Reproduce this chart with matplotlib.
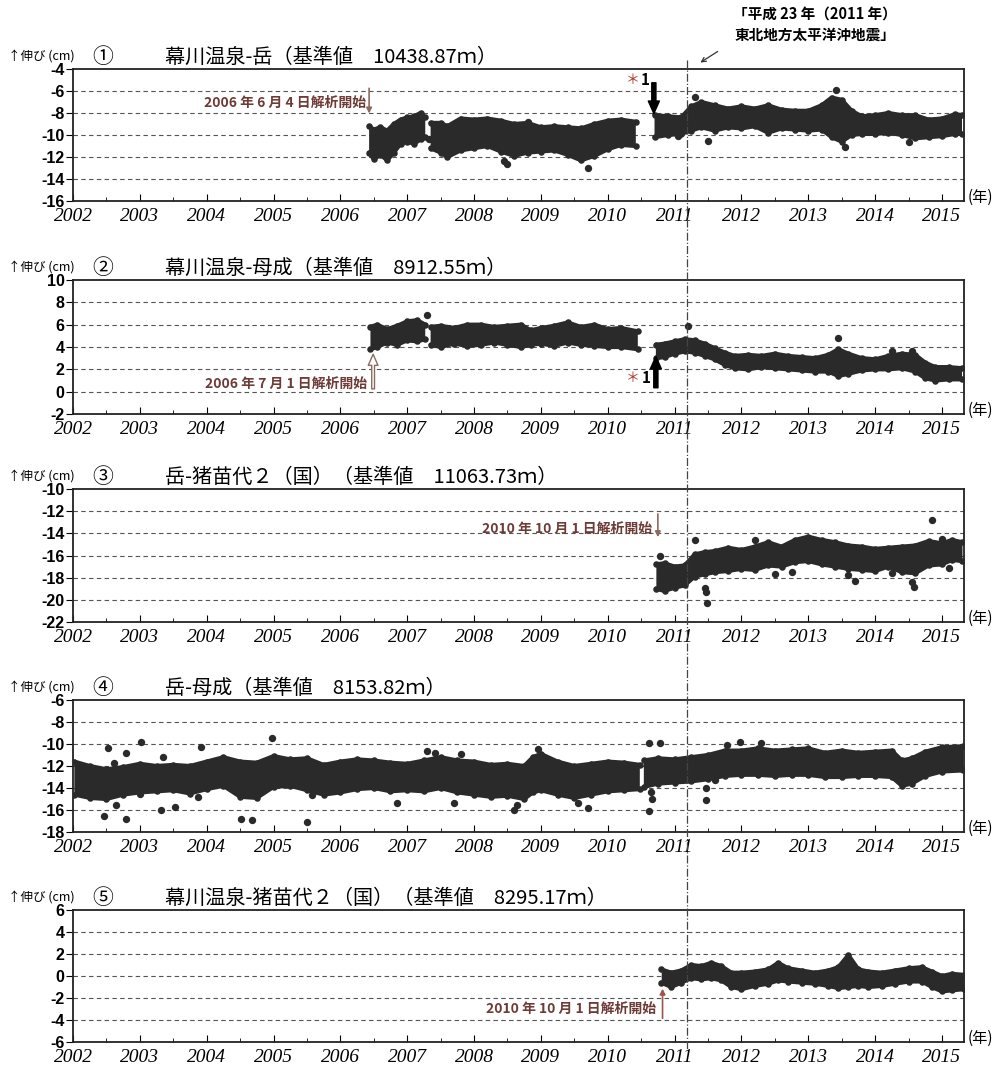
import numpy as np
import matplotlib
matplotlib.use('Agg')
import matplotlib.pyplot as plt
from matplotlib.transforms import blended_transform_factory, ScaledTranslation
from matplotlib.lines import Line2D

JP = ['Noto Sans CJK JP', 'DejaVu Sans']
plt.rcParams['font.family'] = JP
plt.rcParams['axes.unicode_minus'] = False

# ---- data (cm) : band lower/upper envelope + stray points ----
# panel 1 : 幕川温泉-岳
p1_t  = [2006.43, 2006.5, 2006.6, 2006.7, 2006.8, 2006.9, 2007.0, 2007.1, 2007.2, 2007.27, np.nan,
         2007.35, 2007.5, 2007.6, 2007.8, 2008.0, 2008.2, 2008.4, 2008.6, 2008.8, 2009.0, 2009.2,
         2009.4, 2009.6, 2009.8, 2010.0, 2010.2, 2010.42, np.nan,
         2010.7, 2010.9, 2011.1, 2011.25, 2011.4, 2011.6, 2011.8, 2012.0, 2012.2, 2012.4, 2012.6,
         2012.8, 2013.0, 2013.2, 2013.35, 2013.5, 2013.65, 2013.8, 2014.0, 2014.2, 2014.4, 2014.6,
         2014.8, 2015.0, 2015.2, 2015.3]
p1_hi = [-9.2, -9.5, -9.3, -9.6, -9.0, -8.6, -8.4, -8.3, -8.0, -8.4, np.nan,
         -8.9, -8.9, -9.2, -8.5, -8.6, -8.5, -8.7, -9.0, -8.9, -9.3, -9.2,
         -9.3, -9.4, -9.0, -8.7, -8.6, -8.8, np.nan,
         -8.2, -8.3, -8.4, -7.4, -7.0, -7.3, -7.6, -7.4, -7.6, -7.3, -7.7,
         -7.8, -7.8, -7.3, -6.6, -6.8, -7.8, -8.3, -8.2, -8.0, -8.2, -8.2,
         -8.6, -8.5, -8.1, -8.2]
p1_lo = [-11.6, -12.2, -11.8, -12.3, -11.6, -10.8, -10.6, -10.8, -10.4, -10.2, np.nan,
         -11.2, -11.6, -12.0, -11.4, -11.2, -11.0, -11.5, -11.9, -11.6, -11.5, -11.4,
         -11.8, -12.3, -11.9, -11.3, -10.9, -11.0, np.nan,
         -10.2, -10.0, -9.9, -9.6, -9.3, -9.6, -9.3, -9.4, -9.2, -9.8, -9.4,
         -9.5, -9.6, -9.5, -10.2, -10.6, -10.0, -9.9, -9.9, -9.8, -10.0, -10.3,
         -10.2, -10.1, -9.9, -9.9]
p1_out_t = [2007.33, 2008.5, 2008.45, 2008.8, 2009.7, 2011.05, 2011.3, 2011.5, 2013.42, 2013.55, 2014.5]
p1_out_v = [-10.4, -12.6, -12.4, -8.8, -13.0, -10.1, -6.5, -10.5, -5.9, -11.1, -10.6]

# panel 2 : 幕川温泉-母成
p2_t  = [2006.45, 2006.55, 2006.7, 2006.85, 2007.0, 2007.15, 2007.27, np.nan,
         2007.35, 2007.5, 2007.7, 2007.9, 2008.1, 2008.3, 2008.5, 2008.7, 2008.85, 2009.0, 2009.2,
         2009.4, 2009.6, 2009.8, 2010.0, 2010.2, 2010.45, np.nan,
         2010.72, 2010.85, 2011.0, 2011.15, 2011.3, 2011.45, 2011.6, 2011.75, 2011.9, 2012.1, 2012.3,
         2012.5, 2012.7, 2012.9, 2013.1, 2013.3, 2013.45, 2013.6, 2013.8, 2014.0, 2014.2, 2014.4,
         2014.6, 2014.75, 2014.9, 2015.1, 2015.3]
p2_hi = [5.8, 6.0, 5.6, 5.9, 6.3, 6.4, 6.0, np.nan,
         5.8, 5.9, 5.7, 6.0, 6.0, 5.8, 5.9, 6.0, 5.5, 5.7, 5.9,
         6.2, 5.8, 6.0, 5.6, 5.7, 5.4, np.nan,
         4.2, 4.3, 4.5, 4.7, 4.6, 4.3, 3.9, 3.5, 3.2, 3.3, 3.2,
         3.4, 3.2, 3.1, 3.0, 3.3, 3.8, 3.4, 3.0, 2.9, 3.2, 3.4,
         3.3, 2.6, 2.2, 2.2, 2.1]
p2_lo = [3.8, 4.0, 4.4, 4.2, 4.6, 4.5, 4.7, np.nan,
         4.2, 4.0, 4.3, 4.1, 4.2, 4.4, 4.2, 4.0, 4.2, 4.3, 4.1,
         4.4, 4.2, 4.1, 4.0, 4.0, 3.8, np.nan,
         3.0, 3.1, 3.4, 3.6, 3.5, 3.2, 2.9, 2.4, 2.1, 2.0, 2.2,
         2.1, 2.0, 1.9, 1.8, 1.8, 1.4, 1.6, 1.9, 2.0, 2.0, 2.1,
         1.8, 1.2, 1.0, 1.1, 1.1]
p2_out_t = [2007.3, 2011.2, 2013.45, 2014.25, 2014.55]
p2_out_v = [6.9, 5.9, 4.8, 3.6, 3.6]

# panel 3 : 岳-猪苗代2(国)
p3_t  = [2010.72, 2010.85, 2011.0, 2011.15, 2011.3, 2011.45, 2011.6, 2011.8, 2012.0, 2012.2, 2012.4,
         2012.6, 2012.8, 2013.0, 2013.2, 2013.4, 2013.6, 2013.8, 2014.0, 2014.2, 2014.4, 2014.6,
         2014.8, 2015.0, 2015.15, 2015.3]
p3_hi = [-16.8, -16.7, -17.0, -16.9, -15.9, -15.7, -15.6, -15.3, -15.5, -15.2, -14.8,
         -15.2, -14.6, -14.3, -14.6, -14.8, -15.1, -15.2, -15.4, -15.3, -15.2, -15.1,
         -14.7, -14.9, -14.6, -14.8]
p3_lo = [-19.0, -19.2, -18.9, -18.7, -17.9, -17.7, -17.5, -17.4, -17.2, -17.3, -16.9,
         -17.0, -16.6, -16.5, -16.8, -17.0, -17.2, -17.3, -17.4, -17.0, -17.5, -17.6,
         -16.9, -16.8, -16.4, -16.5]
p3_out_t = [2010.78, 2011.3, 2011.45, 2011.47, 2011.48, 2012.2, 2012.25, 2012.5, 2012.75, 2013.6,
            2013.7, 2014.55, 2014.58, 2014.85, 2015.0, 2015.1, 2014.25]
p3_out_v = [-16.0, -14.6, -18.9, -19.3, -20.3, -14.6, -16.6, -17.7, -17.5, -17.8,
            -18.3, -18.4, -18.8, -12.8, -14.5, -17.1, -17.6]

# panel 4 : 岳-母成
p4_t  = [2002.02, 2002.25, 2002.5, 2002.75, 2003.0, 2003.25, 2003.5, 2003.75, 2004.0, 2004.25,
         2004.5, 2004.75, 2005.0, 2005.25, 2005.5, 2005.75, 2006.0, 2006.25, 2006.5, 2006.75,
         2007.0, 2007.25, 2007.5, 2007.75, 2008.0, 2008.25, 2008.5, 2008.75, 2008.88, 2009.0,
         2009.25, 2009.5, 2009.75, 2010.0, 2010.25, 2010.48, np.nan,
         2010.54, 2010.75, 2011.0, 2011.25, 2011.5, 2011.75, 2012.0, 2012.25, 2012.5, 2012.75,
         2013.0, 2013.25, 2013.5, 2013.75, 2014.0, 2014.25, 2014.4, 2014.55, 2014.75, 2015.0, 2015.32]
p4_hi = [-11.6, -12.0, -12.3, -12.1, -11.8, -12.0, -11.9, -12.0, -11.6, -11.2,
         -11.6, -11.7, -11.1, -11.4, -11.3, -11.9, -11.6, -11.4, -11.5, -11.7,
         -11.8, -11.5, -11.2, -11.5, -11.6, -11.9, -11.8, -12.0, -11.2, -10.9,
         -11.6, -12.0, -11.8, -11.6, -11.7, -11.9, np.nan,
         -11.5, -11.3, -11.4, -11.2, -11.0, -10.6, -10.6, -10.4, -10.6, -10.5,
         -10.4, -10.8, -10.6, -10.8, -10.7, -10.6, -11.5, -11.3, -10.7, -10.3, -10.2]
p4_lo = [-14.6, -14.9, -15.0, -14.6, -14.4, -14.3, -14.2, -14.5, -14.1, -13.8,
         -14.8, -14.9, -13.9, -13.8, -14.2, -14.6, -14.4, -14.1, -14.0, -14.3,
         -14.2, -14.3, -14.0, -14.4, -14.6, -14.8, -14.7, -15.0, -14.4, -14.2,
         -14.6, -14.9, -14.6, -14.3, -14.2, -14.1, np.nan,
         -13.9, -13.6, -13.5, -13.4, -13.2, -12.9, -12.8, -12.8, -12.9, -12.8,
         -12.8, -13.0, -13.0, -12.9, -12.9, -13.0, -13.8, -13.6, -12.9, -12.5, -12.4]
p4_out_t = [2002.52, 2002.62, 2002.8, 2003.02, 2003.35, 2003.0, 2002.47, 2002.65, 2002.8, 2003.32,
            2003.52, 2003.87, 2003.92, 2004.52, 2004.68, 2004.97, 2005.5, 2005.57, 2007.29, 2007.41,
            2006.84, 2007.7, 2007.8, 2008.65, 2008.6, 2008.95, 2009.7, 2009.55, 2010.62, 2010.78,
            2010.64, 2010.66, 2010.62, 2011.47, 2011.47, 2011.6, 2011.78, 2011.98, 2012.3]
p4_out_v = [-10.4, -11.7, -10.8, -9.8, -11.2, -14.5, -16.5, -15.5, -16.8, -16.0,
            -15.7, -14.8, -10.3, -16.8, -16.9, -9.5, -17.1, -14.6, -10.6, -10.8,
            -15.4, -15.4, -10.9, -15.5, -16.0, -10.5, -15.8, -15.4, -9.9, -9.9,
            -14.4, -15.0, -16.1, -14.0, -15.1, -13.3, -10.1, -9.8, -9.9]

# panel 5 : 幕川温泉-猪苗代2(国)
p5_t  = [2010.8, 2010.95, 2011.1, 2011.25, 2011.4, 2011.55, 2011.7, 2011.85, 2012.0, 2012.2,
         2012.4, 2012.55, 2012.7, 2012.9, 2013.1, 2013.3, 2013.45, 2013.6, 2013.75, 2013.9,
         2014.1, 2014.3, 2014.5, 2014.7, 2014.85, 2015.0, 2015.15, 2015.33]
p5_hi = [0.6, 0.3, 0.5, 1.0, 0.9, 1.2, 0.9, 0.3, 0.3, 0.4,
         0.6, 1.2, 0.7, 0.5, 0.3, 0.5, 0.8, 1.9, 0.6, 0.4,
         0.3, 0.5, 0.7, 0.8, 0.4, 0.0, 0.2, 0.1]
p5_lo = [-0.6, -1.0, -0.6, -0.2, -0.3, -0.2, -0.4, -1.0, -1.2, -0.9,
         -0.7, -0.4, -0.5, -0.6, -0.7, -0.9, -1.1, -1.0, -0.9, -1.0,
         -0.9, -0.7, -0.5, -0.5, -1.0, -1.4, -1.3, -1.2]
p5_out_t = []
p5_out_v = []

circled = ['①', '②', '③', '④', '⑤']
titles = ['幕川温泉-岳（基準値　10438.87ｍ）',
          '幕川温泉-母成（基準値　8912.55ｍ）',
          '岳-猪苗代２（国）（基準値　11063.73ｍ）',
          '岳-母成（基準値　8153.82ｍ）',
          '幕川温泉-猪苗代２（国）（基準値　8295.17ｍ）']
ylims = [(-16, -4), (-2, 10), (-22, -10), (-18, -6), (-6, 6)]
years = list(range(2002, 2016))
quake = 2011.19

series = [(p1_t, p1_lo, p1_hi, p1_out_t, p1_out_v),
          (p2_t, p2_lo, p2_hi, p2_out_t, p2_out_v),
          (p3_t, p3_lo, p3_hi, p3_out_t, p3_out_v),
          (p4_t, p4_lo, p4_hi, p4_out_t, p4_out_v),
          (p5_t, p5_lo, p5_hi, p5_out_t, p5_out_v)]

W, H = 998, 1069
fig = plt.figure(figsize=(W / 100, H / 100), dpi=100)
fig.patch.set_facecolor('white')

tops = [69, 280, 489, 700, 910]
bots = [201, 414, 622, 832, 1042]
left, right = 73, 964
dark = '#2a2a2a'
brown = '#6e3b35'
arrowc = '#8c6a62'

axes = []
for i in range(5):
    ax = fig.add_axes([left / W, 1 - bots[i] / H, (right - left) / W, (bots[i] - tops[i]) / H])
    t, lo, hi, ot, ov = series[i]
    t = np.array(t, float); lo = np.array(lo, float); hi = np.array(hi, float)
    ax.fill_between(t, lo, hi, color=dark, lw=0, zorder=3)
    ax.plot(t, lo, color=dark, lw=3, solid_capstyle='round', solid_joinstyle='round', zorder=3)
    ax.plot(t, hi, color=dark, lw=3, solid_capstyle='round', solid_joinstyle='round', zorder=3)
    ax.scatter(t, lo, s=22, color=dark, lw=0, zorder=3)
    ax.scatter(t, hi, s=22, color=dark, lw=0, zorder=3)
    if ot:
        ax.scatter(ot, ov, s=28, color=dark, zorder=3, lw=0)

    ax.set_xlim(2002, 2015.33)
    ax.set_ylim(*ylims[i])
    ax.set_yticks(np.arange(ylims[i][0], ylims[i][1] + 1, 2))
    ax.set_xticks(years)
    ax.set_xticks([y + 0.5 for y in years[:-1]], minor=True)
    ax.set_xticklabels([str(y) for y in years], family='Liberation Serif', style='italic', fontsize=14)
    ylabs = ax.get_yticklabels()
    for lab in ylabs:
        lab.set_family('Liberation Sans'); lab.set_fontweight('bold'); lab.set_fontsize(11.5)
    # lowest value label sits a little above the corner, as on the scan
    ylabs[0].set_transform(ylabs[0].get_transform() + ScaledTranslation(0, 4 / 72, fig.dpi_scale_trans))
    ax.tick_params(axis='x', which='major', direction='in', length=5, pad=5)
    ax.tick_params(axis='x', which='minor', direction='in', length=3)
    ax.tick_params(axis='y', direction='out', length=5, pad=1)
    for yv in np.arange(ylims[i][0] + 2, ylims[i][1], 2):
        ax.axhline(yv, color='#555555', lw=0.8, ls=(0, (4, 3)), zorder=1)
    for s in ax.spines.values():
        s.set_linewidth(1.3)
        s.set_color('#222222')
    ax.text(1.004, 0.03, '(年)', transform=ax.transAxes, ha='left', va='center', fontsize=11)

    yh = 1 - (tops[i] - 12) / H
    fig.text(8 / W, yh, '↑伸び (cm)', fontsize=9, va='center', ha='left')
    fig.text(92 / W, yh, circled[i], fontsize=15, va='center', ha='left')
    fig.text(165 / W, yh, titles[i], fontsize=14.5, va='center', ha='left')
    axes.append(ax)

ax1, ax2, ax3, ax4, ax5 = axes

# earthquake marker line running through all panels
tr = blended_transform_factory(ax1.transData, fig.transFigure)
fig.add_artist(Line2D([quake, quake], [1 - 60 / H, 1 - 1050 / H], transform=tr,
                      color='#444444', lw=0.9, ls='-.', zorder=10))
fig.text(815 / W, 1 - 14 / H, '「平成 23 年（2011 年）', fontsize=10.5, fontweight='bold', ha='center', va='center')
fig.text(815 / W, 1 - 35 / H, '東北地方太平洋沖地震」', fontsize=10.5, fontweight='bold', ha='center', va='center')
fig.add_artist(matplotlib.patches.FancyArrowPatch((720 / W, 1 - 50 / H), (698 / W, 1 - 64 / H),
               transform=fig.transFigure, arrowstyle='->', mutation_scale=8, color='#333333', lw=0.9))

# analysis start notes
sty = dict(fontsize=10, color=brown, fontweight='bold', va='center', ha='right')
ax1.annotate('', xy=(2006.43, -8.3), xytext=(2006.43, -5.5),
             arrowprops=dict(arrowstyle='-|>', color=arrowc, lw=1.2, mutation_scale=8), zorder=5)
ax1.text(2006.38, -7.1, '2006 年 6 月 4 日解析開始', **sty)

ax2.annotate('', xy=(2006.49, 3.6), xytext=(2006.49, 0.0),
             arrowprops=dict(arrowstyle='simple,head_width=0.7,head_length=0.8,tail_width=0.2',
                             fc='white', ec=arrowc, lw=1), zorder=5)
ax2.text(2006.4, 0.7, '2006 年 7 月 1 日解析開始', **sty)

ax3.annotate('', xy=(2010.75, -14.6), xytext=(2010.75, -12.0),
             arrowprops=dict(arrowstyle='-|>', color=arrowc, lw=1.2, mutation_scale=8), zorder=5)
ax3.text(2010.66, -13.6, '2010 年 10 月 1 日解析開始', **sty)

ax5.annotate('', xy=(2010.82, -0.9), xytext=(2010.82, -4.1),
             arrowprops=dict(arrowstyle='-|>', color='#a0554a', lw=1.2, mutation_scale=8), zorder=5)
ax5.text(2010.72, -3.0, '2010 年 10 月 1 日解析開始', **sty)

# *1 marks
big = dict(arrowstyle='simple,head_width=0.8,head_length=0.9,tail_width=0.3', fc='black', ec='black')
ax1.annotate('', xy=(2010.69, -8.3), xytext=(2010.69, -5.0), arrowprops=big, zorder=6)
ax1.text(2010.38, -5.0, '＊', color='#b03a30', fontsize=10, ha='center', va='center')
ax1.text(2010.56, -5.0, '1', color='black', fontsize=11, fontweight='bold', ha='center', va='center')
ax2.annotate('', xy=(2010.72, 3.4), xytext=(2010.72, 0.1), arrowprops=big, zorder=6)
ax2.text(2010.38, 1.2, '＊', color='#b03a30', fontsize=10, ha='center', va='center')
ax2.text(2010.57, 1.2, '1', color='black', fontsize=11, fontweight='bold', ha='center', va='center')

fig.savefig('out.png', dpi=100)
